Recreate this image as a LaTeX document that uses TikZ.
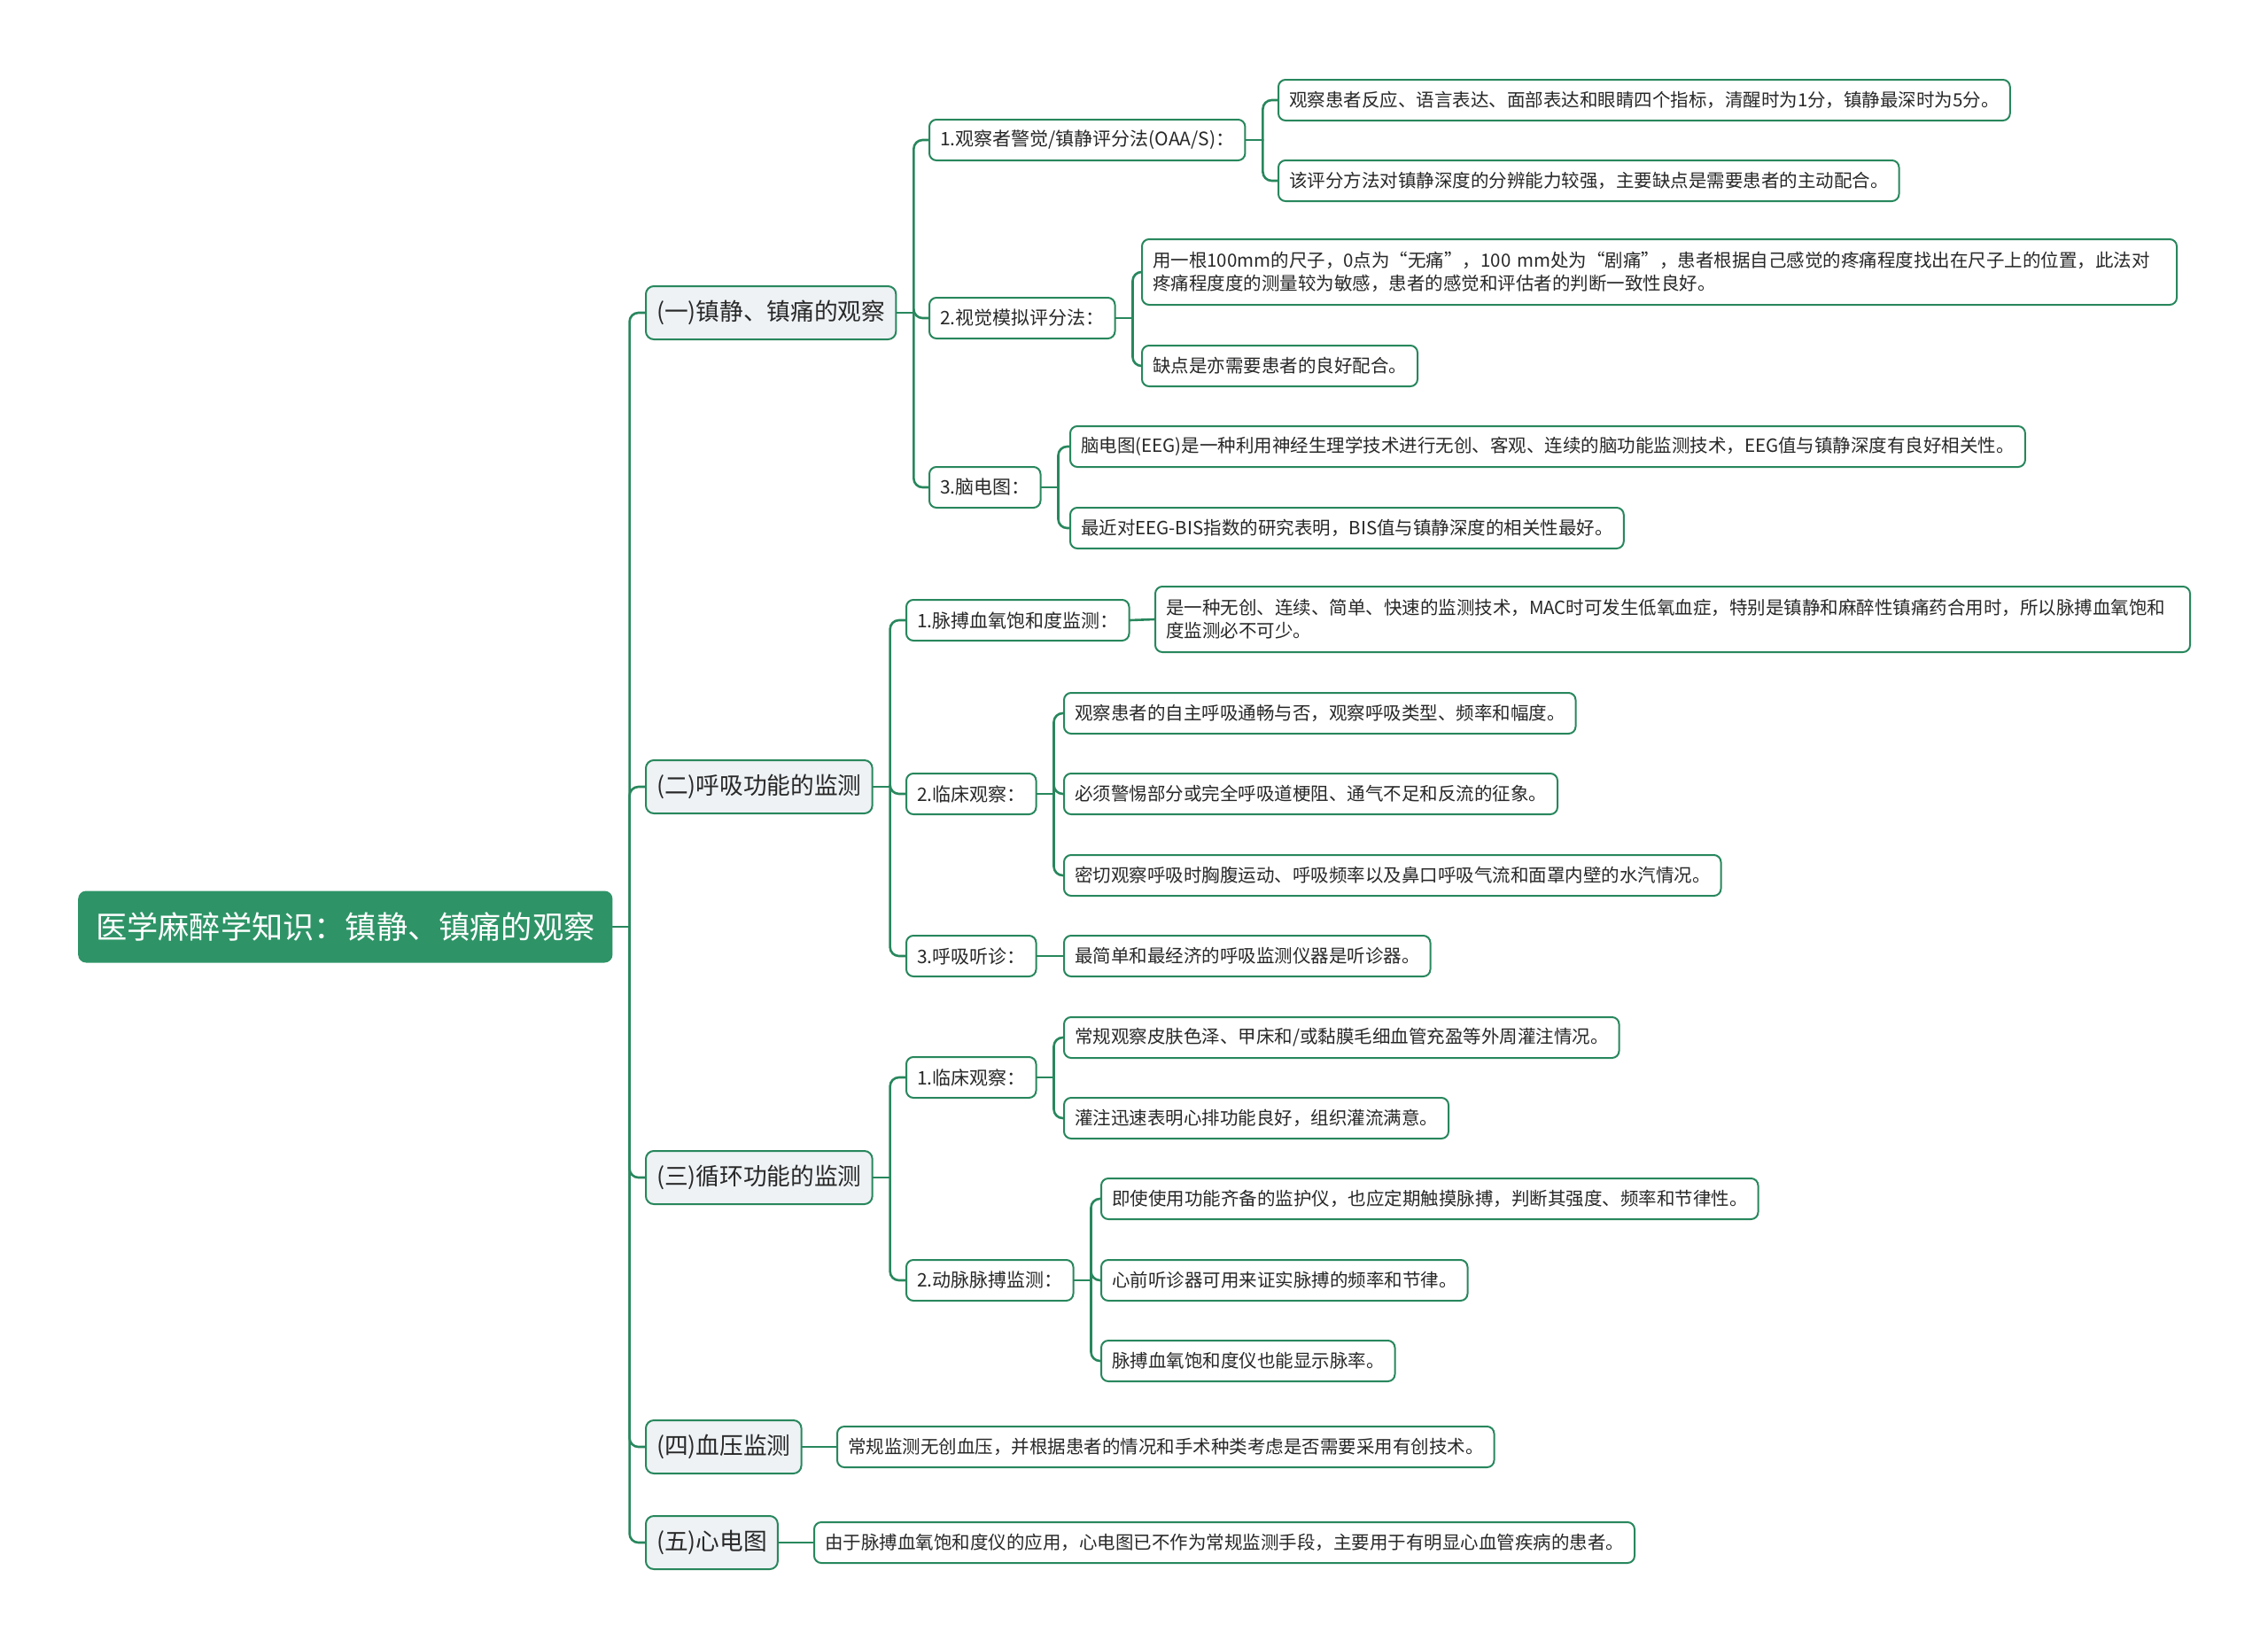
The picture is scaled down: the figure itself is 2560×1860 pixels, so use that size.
\documentclass[tikz,border=0pt]{standalone}
\usepackage{fontspec}
\setmainfont{Noto Sans CJK SC}
\definecolor{mapgreen}{RGB}{46,148,103}
\definecolor{linegreen}{RGB}{40,135,93}
\definecolor{topicfill}{RGB}{238,242,245}
\definecolor{textgrey}{RGB}{40,40,40}

\begin{document}
\begin{tikzpicture}[x=1pt,y=-1pt,line cap=round,line join=round,
  rootbox/.style={anchor=west,fill=mapgreen,rounded corners=9pt,text=white,inner xsep=20pt,minimum height=81pt,font=\fontsize{35.2}{40}\selectfont},
  topicbox/.style={anchor=west,draw=linegreen,line width=2pt,fill=topicfill,rounded corners=9pt,text=textgrey,inner xsep=12pt,minimum height=60pt,font=\fontsize{26.7}{30}\selectfont},
  subbox/.style={anchor=west,draw=linegreen,line width=2pt,fill=white,rounded corners=8pt,text=textgrey,inner xsep=12pt,minimum height=46pt,font=\fontsize{21}{26}\selectfont},
  leafbox/.style={subbox,align=left,font=\fontsize{20.5}{26}\selectfont},
  widebox/.style={leafbox,minimum height=74pt,text width=1144pt},
  link/.style={draw=linegreen,line width=2.6pt,rounded corners=10pt}]
\useasboundingbox (0,0) rectangle (2560,1860);
\fill[white] (0,0) rectangle (2560,1860);

% root and main topics
\node[rootbox] (root) at (88,1046) {医学麻醉学知识：镇静、镇痛的观察};
\node[topicbox] (s1) at (728,353) {(一)镇静、镇痛的观察};
\node[topicbox] (s2) at (728,888) {(二)呼吸功能的监测};
\node[topicbox] (s3) at (728,1329) {(三)循环功能的监测};
\node[topicbox] (s4) at (728,1633) {(四)血压监测};
\node[topicbox] (s5) at (728,1741) {(五)心电图};

% second level
\node[subbox] (s1a) at (1048,158) {1.观察者警觉/镇静评分法(OAA/S)：};
\node[subbox] (s1b) at (1048,359) {2.视觉模拟评分法：};
\node[subbox] (s1c) at (1048,550) {3.脑电图：};
\node[subbox] (s2a) at (1022,700) {1.脉搏血氧饱和度监测：};
\node[subbox] (s2b) at (1022,896) {2.临床观察：};
\node[subbox] (s2c) at (1022,1079) {3.呼吸听诊：};
\node[subbox] (s3a) at (1022,1216) {1.临床观察：};
\node[subbox] (s3b) at (1022,1445) {2.动脉脉搏监测：};

% leaves
\node[leafbox] (s1a1) at (1442,113) {观察患者反应、语言表达、面部表达和眼睛四个指标，清醒时为1分，镇静最深时为5分。};
\node[leafbox] (s1a2) at (1442,204) {该评分方法对镇静深度的分辨能力较强，主要缺点是需要患者的主动配合。};
\node[widebox] (s1b1) at (1288,307) {用一根100mm的尺子，0点为“无痛”，100 mm处为“剧痛”，患者根据自己感觉的疼痛程度找出在尺子上的位置，此法对\\疼痛程度度的测量较为敏感，患者的感觉和评估者的判断一致性良好。};
\node[leafbox] (s1b2) at (1288,413) {缺点是亦需要患者的良好配合。};
\node[leafbox] (s1c1) at (1207,504) {脑电图(EEG)是一种利用神经生理学技术进行无创、客观、连续的脑功能监测技术，EEG值与镇静深度有良好相关性。};
\node[leafbox] (s1c2) at (1207,596) {最近对EEG-BIS指数的研究表明，BIS值与镇静深度的相关性最好。};
\node[widebox] (s2a1) at (1303,699) {是一种无创、连续、简单、快速的监测技术，MAC时可发生低氧血症，特别是镇静和麻醉性镇痛药合用时，所以脉搏血氧饱和\\度监测必不可少。};
\node[leafbox] (s2b1) at (1200,805) {观察患者的自主呼吸通畅与否，观察呼吸类型、频率和幅度。};
\node[leafbox] (s2b2) at (1200,896) {必须警惕部分或完全呼吸道梗阻、通气不足和反流的征象。};
\node[leafbox] (s2b3) at (1200,988) {密切观察呼吸时胸腹运动、呼吸频率以及鼻口呼吸气流和面罩内壁的水汽情况。};
\node[leafbox] (s2c1) at (1200,1079) {最简单和最经济的呼吸监测仪器是听诊器。};
\node[leafbox] (s3a1) at (1200,1171) {常规观察皮肤色泽、甲床和/或黏膜毛细血管充盈等外周灌注情况。};
\node[leafbox] (s3a2) at (1200,1262) {灌注迅速表明心排功能良好，组织灌流满意。};
\node[leafbox] (s3b1) at (1242,1353) {即使使用功能齐备的监护仪，也应定期触摸脉搏，判断其强度、频率和节律性。};
\node[leafbox] (s3b2) at (1242,1445) {心前听诊器可用来证实脉搏的频率和节律。};
\node[leafbox] (s3b3) at (1242,1536) {脉搏血氧饱和度仪也能显示脉率。};
\node[leafbox] (s4a) at (944,1633) {常规监测无创血压，并根据患者的情况和手术种类考虑是否需要采用有创技术。};
\node[leafbox] (s5a) at (918,1741) {由于脉搏血氧饱和度仪的应用，心电图已不作为常规监测手段，主要用于有明显心血管疾病的患者。};

% connectors
\draw[link] (root.east) -- ++(19,0) coordinate (rootj);
\draw[link] (rootj) |- (s1.west);
\draw[link] (rootj) |- (s2.west);
\draw[link] (rootj) |- (s3.west);
\draw[link] (rootj) |- (s4.west);
\draw[link] (rootj) |- (s5.west);

\draw[link] (s1.east) -- ++(19,0) coordinate (s1j);
\draw[link] (s1j) |- (s1a.west);
\draw[link] (s1j) |- (s1b.west);
\draw[link] (s1j) |- (s1c.west);
\draw[link] (s2.east) -- ++(19,0) coordinate (s2j);
\draw[link] (s2j) |- (s2a.west);
\draw[link] (s2j) |- (s2b.west);
\draw[link] (s2j) |- (s2c.west);
\draw[link] (s3.east) -- ++(19,0) coordinate (s3j);
\draw[link] (s3j) |- (s3a.west);
\draw[link] (s3j) |- (s3b.west);
\draw[link] (s4.east) -- (s4a.west);
\draw[link] (s5.east) -- (s5a.west);

\draw[link] (s1a.east) -- ++(19,0) coordinate (s1aj);
\draw[link] (s1aj) |- (s1a1.west);
\draw[link] (s1aj) |- (s1a2.west);
\draw[link] (s1b.east) -- ++(19,0) coordinate (s1bj);
\draw[link] (s1bj) |- (s1b1.west);
\draw[link] (s1bj) |- (s1b2.west);
\draw[link] (s1c.east) -- ++(19,0) coordinate (s1cj);
\draw[link] (s1cj) |- (s1c1.west);
\draw[link] (s1cj) |- (s1c2.west);
\draw[link] (s2a.east) -- (s2a1.west);
\draw[link] (s2b.east) -- ++(19,0) coordinate (s2bj);
\draw[link] (s2bj) |- (s2b1.west);
\draw[link] (s2bj) |- (s2b2.west);
\draw[link] (s2bj) |- (s2b3.west);
\draw[link] (s2c.east) -- (s2c1.west);
\draw[link] (s3a.east) -- ++(19,0) coordinate (s3aj);
\draw[link] (s3aj) |- (s3a1.west);
\draw[link] (s3aj) |- (s3a2.west);
\draw[link] (s3b.east) -- ++(19,0) coordinate (s3bj);
\draw[link] (s3bj) |- (s3b1.west);
\draw[link] (s3bj) |- (s3b2.west);
\draw[link] (s3bj) |- (s3b3.west);
\end{tikzpicture}
\end{document}
